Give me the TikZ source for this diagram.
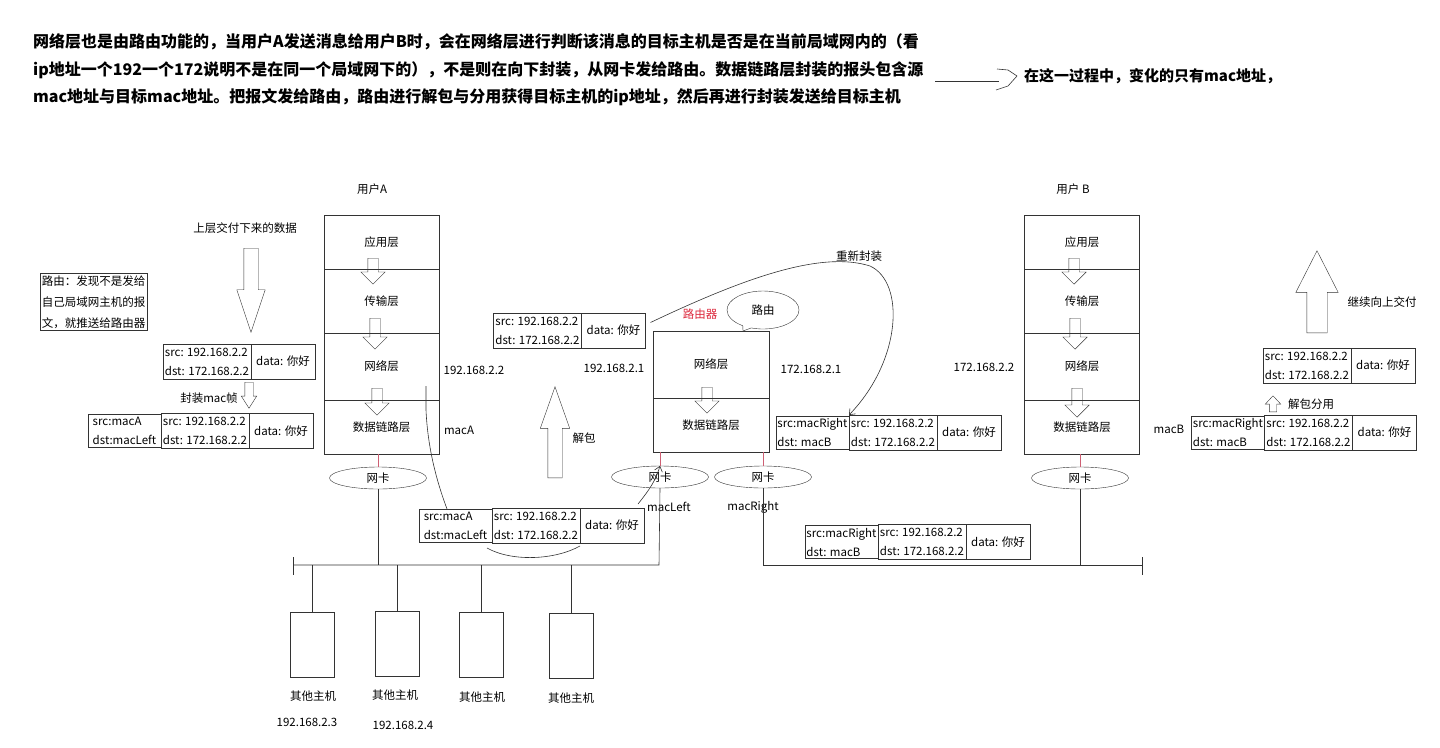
\documentclass[tikz,border=0pt]{standalone}
\usepackage{fontspec}
\setmainfont{Noto Sans CJK SC}
\usepackage{tikz}
\usetikzlibrary{arrows.meta,positioning,shapes.geometric,shapes.arrows,shapes.callouts}
\definecolor{nicred}{RGB}{205,95,115}
\definecolor{tagred}{RGB}{220,40,60}
\tikzset{
	>={Straight Barb[length=5pt,width=8pt]},
	layer/.style={
		draw=black!80,
		minimum width=115pt,
		inner sep=0pt,
		outer sep=0pt
	},
	nic/.style={
		ellipse,
		draw=black!80,
		minimum width=97pt,
		minimum height=22pt,
		inner sep=0pt
	},
	hollow/.style={
		single arrow,
		draw=black!80,
		anchor=tail,
		inner ysep=0pt,
		inner xsep=#1,
		single arrow head indent=0pt
	},
	hollow/.default=5pt,
	conn/.style={
		line width=0.6pt,
		draw=black!80
	}
}

\begin{document}
\begin{tikzpicture}[
	x=1pt, y=-1pt,
	every node/.style={font=\fontsize{11.5}{14}\selectfont},
	ipbox/.style={draw=black!80, minimum width=88pt, minimum height=35pt,
		inner sep=1pt, outer sep=0pt, align=left,
		font=\fontsize{11.5}{19}\selectfont},
	macbox/.style={ipbox, minimum width=73pt, minimum height=33pt},
	databox/.style={draw=black!80, minimum width=64pt, minimum height=35pt,
		inner sep=1pt, outer sep=0pt},
	hostbox/.style={draw=black!80, minimum width=44pt, minimum height=65pt,
		inner sep=0pt, outer sep=0pt},
	headline/.style={anchor=west, inner sep=0pt,
		font=\fontsize{16}{20}\selectfont\bfseries}
	]
	\useasboundingbox (0,0) rectangle (1440,747);
	
	%--------------------
	% Header text
	%--------------------
	\node[headline] (head1) at (33,42) {网络层也是由路由功能的，当用户A发送消息给用户B时，会在网络层进行判断该消息的目标主机是否是在当前局域网内的（看};
	\node[headline] (head2) at (33,70) {ip地址一个192一个172说明不是在同一个局域网下的），不是则在向下封装，从网卡发给路由。数据链路层封装的报头包含源};
	\node[headline] (head3) at (33,97) {mac地址与目标mac地址。把报文发给路由，路由进行解包与分用获得目标主机的ip地址，然后再进行封装发送给目标主机};
	
	\coordinate (sq0) at (935,81);
	\coordinate (sq1) at (999,81);
	\draw[conn] (sq0) -- (sq1);
	\draw[conn] (997,69) -- (1008,70) -- (1017,76) -- (1008,86) -- (996,90);
	\node[headline, font=\fontsize{15}{18}\selectfont\bfseries] (note2) at (1024,76) {在这一过程中，变化的只有mac地址，};
	
	%--------------------
	% User A
	%--------------------
	\node (userA) at (372,189) {用户A};
	\node[layer, minimum height=54pt] (appA) at (381.5,242) {应用层};
	\node[layer, minimum height=64pt, below=0pt of appA] (tpA) {传输层};
	\node[layer, minimum height=67pt, below=0pt of tpA] (netA) {网络层};
	\node[layer, minimum height=54pt, below=0pt of netA] (dlA) {数据链路层};
	
	\node[hollow, shape border rotate=270, minimum height=26pt, minimum width=24pt,
		single arrow head extend=7pt] (dnA1) at (373,258) {};
	\node[hollow, shape border rotate=270, minimum height=31pt, minimum width=24pt,
		single arrow head extend=7pt] (dnA2) at (375,318) {};
	\node[hollow, shape border rotate=270, minimum height=27pt, minimum width=24pt,
		single arrow head extend=7pt] (dnA3) at (377,388) {};
	
	\node (ipA) at (474,370) {192.168.2.2};
	\node (macA) at (459,430) {macA};
	
	%--------------------
	% Left side: sending
	%--------------------
	\node (fromup) at (245,228) {上层交付下来的数据};
	\node[hollow=7pt, shape border rotate=270, minimum height=84pt, minimum width=28pt,
		single arrow head extend=7pt, single arrow tip angle=37] (bigdn) at (251,248) {};
	
	\node[draw=black!80, align=left, inner sep=2pt,
		font=\fontsize{11.5}{21}\selectfont] (rnote) at (93.5,302)
		{路由：发现不是发给\\自己局域网主机的报\\文，就推送给路由器};
	
	\node[ipbox] (p1ip) at (207,361.5) {src: 192.168.2.2\\dst: 172.168.2.2};
	\node[databox, right=0pt of p1ip] (p1data) {data: 你好};
	
	\node (encap) at (209,398) {封装mac帧};
	\node[hollow=4pt, shape border rotate=270, minimum height=26pt, minimum width=15pt,
		single arrow head extend=3.5pt, single arrow tip angle=65] (encapdn) at (249,382) {};
	
	\node[ipbox] (p2ip) at (205,431) {src: 192.168.2.2\\dst: 172.168.2.2};
	\node[macbox, left=0pt of p2ip] (p2mac) {src:macA\\dst:macLeft};
	\node[databox, right=0pt of p2ip] (p2data) {data: 你好};
	
	%--------------------
	% Router
	%--------------------
	\node[tagred] (rtag) at (700,314) {路由器};
	\node[ellipse callout, draw=black!80, minimum width=72pt, minimum height=38pt,
		callout absolute pointer={(743,331)}] (rcall) at (763,310) {路由};
	\node[layer, minimum width=116pt, minimum height=67pt] (rnet) at (711,364.5) {网络层};
	\node[layer, minimum width=116pt, minimum height=54pt, below=0pt of rnet] (rdl) {数据链路层};
	\node[hollow, shape border rotate=270, minimum height=26pt, minimum width=24pt,
		single arrow head extend=7pt] (dnR) at (707,387) {};
	
	\node (ipRL) at (614,368) {192.168.2.1};
	\node (ipRR) at (811,369) {172.168.2.1};
	\node (macL) at (669,507) {macLeft};
	\node (macR) at (753,507) {macRight};
	
	\node[ipbox] (p3ip) at (537.5,330.5) {src: 192.168.2.2\\dst: 172.168.2.2};
	\node[databox, right=0pt of p3ip] (p3data) {data: 你好};
	
	\node[hollow=7pt, shape border rotate=90, minimum height=91pt, minimum width=29pt,
		single arrow head extend=7.5pt, single arrow tip angle=39] (unpk) at (555,478) {};
	\node (unpklbl) at (584,438) {解包};
	
	\node[ipbox] (p4ip) at (536,525.5) {src: 192.168.2.2\\dst: 172.168.2.2};
	\node[macbox, left=0pt of p4ip] (p4mac) {src:macA\\dst:macLeft};
	\node[databox, right=0pt of p4ip] (p4data) {data: 你好};
	
	\node[ipbox] (p5ip) at (893,432.5) {src: 192.168.2.2\\dst: 172.168.2.2};
	\node[macbox, left=0pt of p5ip] (p5mac) {src:macRight\\dst: macB};
	\node[databox, right=0pt of p5ip] (p5data) {data: 你好};
	
	\node (reenc) at (859,256) {重新封装};
	
	%--------------------
	% User B
	%--------------------
	\node (userB) at (1073,189) {用户 B};
	\node[layer, minimum height=54pt] (appB) at (1082,242) {应用层};
	\node[layer, minimum height=64pt, below=0pt of appB] (tpB) {传输层};
	\node[layer, minimum height=67pt, below=0pt of tpB] (netB) {网络层};
	\node[layer, minimum height=54pt, below=0pt of netB] (dlB) {数据链路层};
	
	\node[hollow, shape border rotate=270, minimum height=26pt, minimum width=24pt,
		single arrow head extend=7pt] (dnB1) at (1074,258) {};
	\node[hollow, shape border rotate=270, minimum height=31pt, minimum width=24pt,
		single arrow head extend=7pt] (dnB2) at (1075,318) {};
	\node[hollow, shape border rotate=270, minimum height=29pt, minimum width=24pt,
		single arrow head extend=7pt] (dnB3) at (1077,388) {};
	
	\node (ipB) at (984,367) {172.168.2.2};
	\node (macBlbl) at (1169,429) {macB};
	
	\node[ipbox] (p6ip) at (922,542) {src: 192.168.2.2\\dst: 172.168.2.2};
	\node[macbox, left=0pt of p6ip] (p6mac) {src:macRight\\dst: macB};
	\node[databox, right=0pt of p6ip] (p6data) {data: 你好};
	
	%--------------------
	% Right side: receiving
	%--------------------
	\node[hollow=10pt, shape border rotate=90, minimum height=82pt, minimum width=42pt,
		single arrow head extend=11pt, single arrow tip angle=54] (bigup) at (1317,333) {};
	\node (toup) at (1382,302) {继续向上交付};
	
	\node[ipbox] (p7ip) at (1307,365.5) {src: 192.168.2.2\\dst: 172.168.2.2};
	\node[databox, right=0pt of p7ip] (p7data) {data: 你好};
	
	\node[hollow=3.5pt, shape border rotate=90, minimum height=16pt, minimum width=15pt,
		single arrow head extend=4pt, single arrow tip angle=86] (demux) at (1273,412) {};
	\node (demuxlbl) at (1311,404) {解包分用};
	
	\node[ipbox] (p8ip) at (1308.5,432.5) {src: 192.168.2.2\\dst: 172.168.2.2};
	\node[macbox, left=0pt of p8ip] (p8mac) {src:macRight\\dst: macB};
	\node[databox, right=0pt of p8ip] (p8data) {data: 你好};
	
	%--------------------
	% Network cards and buses
	%--------------------
	\node[nic] (nicA) at (378,478) {网卡};
	\node[nic] (nicL) at (660,477) {网卡};
	\node[nic] (nicR) at (763,477) {网卡};
	\node[nic] (nicB) at (1080,478) {网卡};
	
	\draw[nicred] (nicA.north) -- (nicA.north |- dlA.south);
	\draw[nicred] (nicL.north) -- (nicL.north |- rdl.south);
	\draw[nicred] (nicR.north) -- (nicR.north |- rdl.south);
	\draw[nicred] (nicB.north) -- (nicB.north |- dlB.south);
	
	\coordinate (busLl) at (293,565);
	\coordinate (busLr) at (659,565);
	\coordinate (busRr) at (1142,565);
	
	\draw[conn] (busLl) -- (busLr) -- (nicL.south);
	\draw[conn] ([yshift=8pt]busLl) -- ([yshift=-10pt]busLl);
	\draw[conn] (nicA.south) -- (nicA.south |- busLl);
	\draw[conn] (nicR.south) -- (nicR.south |- busRr) -- (busRr);
	\draw[conn] ([yshift=8pt]busRr) -- ([yshift=-10pt]busRr);
	\draw[conn] (nicB.south) -- (nicB.south |- busRr);
	
	%--------------------
	% Other hosts
	%--------------------
	\node[hostbox] (host1) at (312,644.5) {};
	\node[hostbox] (host2) at (397,644) {};
	\node[hostbox] (host3) at (481,645) {};
	\node[hostbox] (host4) at (571,646) {};
	
	\foreach \h in {host1,host2,host3,host4}
		\draw[conn] (\h.north) -- (\h.north |- busLl);
	
	\node (host1lbl) at (313,696) {其他主机};
	\node (host2lbl) at (395,695) {其他主机};
	\node (host3lbl) at (482,697) {其他主机};
	\node (host4lbl) at (571,698) {其他主机};
	\node (host1ip) at (307,722) {192.168.2.3};
	\node (host2ip) at (403,725) {192.168.2.4};
	
	%--------------------
	% Curved connectors
	%--------------------
	\coordinate (tapA) at (426,386);
	\draw[conn] (tapA) -- (426,410) .. controls (428,455) and (440,490) .. ([xshift=28pt]p4mac.north west);
	\draw[conn] ([shift={(-5,5)}]p4ip.south west) .. controls +(25,14) and +(-25,14) .. ([shift={(0,3)}]p4ip.south east);
	\draw[conn,->] ([shift={(-6,-4)}]p4data.north east) .. controls +(12,-15) and +(-4,14) .. (nicL.north);
	\draw[conn,->] ([shift={(5,-8)}]p3data.east) .. controls (740,280) and (820,250) .. (870,266)
		.. controls (905,282) and (902,360) .. (p5ip.north west);
	
\end{tikzpicture}
\end{document}
